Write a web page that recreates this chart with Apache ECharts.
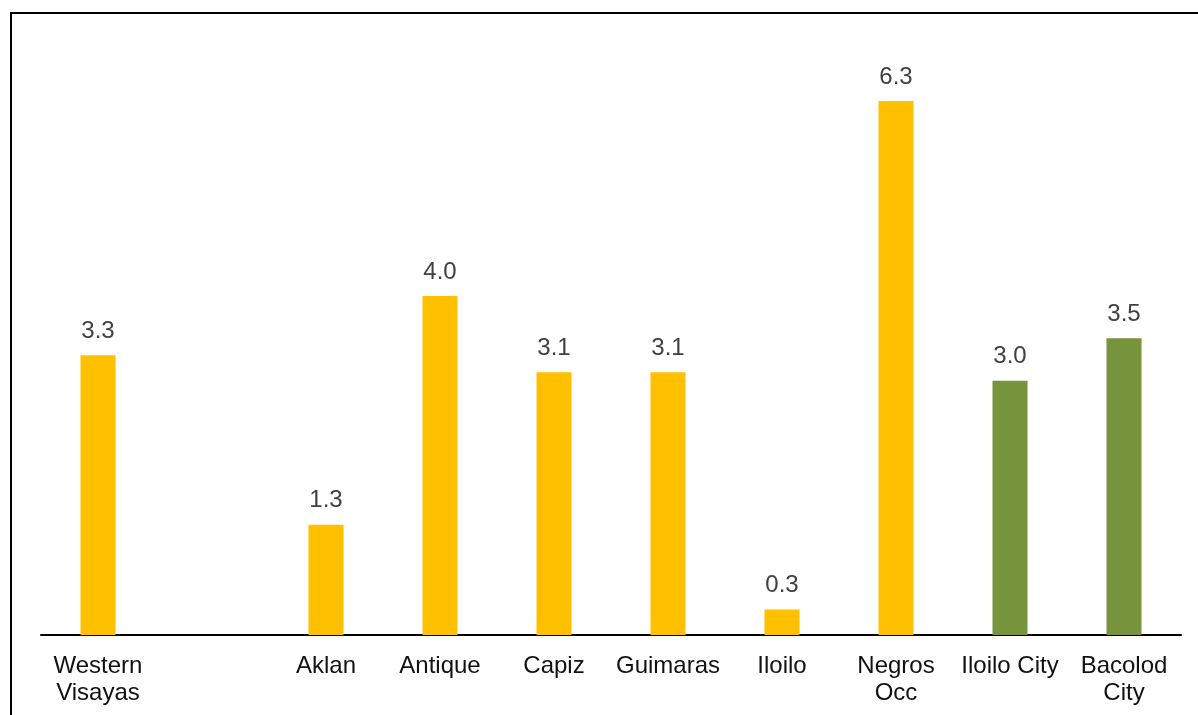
<!DOCTYPE html>
<html>
<head>
<meta charset="utf-8">
<script src="https://cdn.jsdelivr.net/npm/echarts@6/dist/echarts.min.js"></script>
<style>
html,body{margin:0;padding:0;background:#fff;}
#chart{width:1198px;height:715px;}
</style>
</head>
<body>
<div id="chart"></div>
<script>
const categories = ['Western\nVisayas', '', 'Aklan', 'Antique', 'Capiz', 'Guimaras', 'Iloilo', 'Negros\nOcc', 'Iloilo City', 'Bacolod\nCity'];
const values = [3.3, null, 1.3, 4.0, 3.1, 3.1, 0.3, 6.3, 3.0, 3.5];
const groups = ['province', 'none', 'province', 'province', 'province', 'province', 'province', 'province', 'city', 'city'];
const groupColors = { province: '#FFC000', city: '#77933C', none: '#FFC000' };

const chart = echarts.init(document.getElementById('chart'));
const font = '"Liberation Sans", Arial, sans-serif';
chart.setOption({
  animation: false,
  backgroundColor: '#ffffff',
  graphic: [{
    type: 'polyline',
    shape: { points: [[11, 716], [11, 13], [1199, 13]] },
    style: { stroke: '#000', lineWidth: 2, fill: null }
  }],
  grid: { left: 41, right: 17, top: 41.7, bottom: 80, containLabel: false },
  xAxis: {
    type: 'category',
    data: categories,
    boundaryGap: true,
    axisLine: { show: true, lineStyle: { color: '#000', width: 2 } },
    axisTick: { show: false },
    axisLabel: { interval: 0, color: '#111', fontSize: 24, lineHeight: 27, fontFamily: font, margin: 18 }
  },
  yAxis: {
    type: 'value', min: 0, max: 7, show: false,
    splitLine: { show: false }
  },
  series: [{
    type: 'bar',
    barWidth: 35,
    data: values.map((v, i) => ({ value: v, itemStyle: { color: groupColors[groups[i]] } })),
    label: {
      show: true, position: 'top', distance: 12,
      color: '#404040', fontSize: 24, fontFamily: font,
      formatter: p => (p.value == null ? '' : Number(p.value).toFixed(1))
    }
  }]
});
</script>
</body>
</html>
